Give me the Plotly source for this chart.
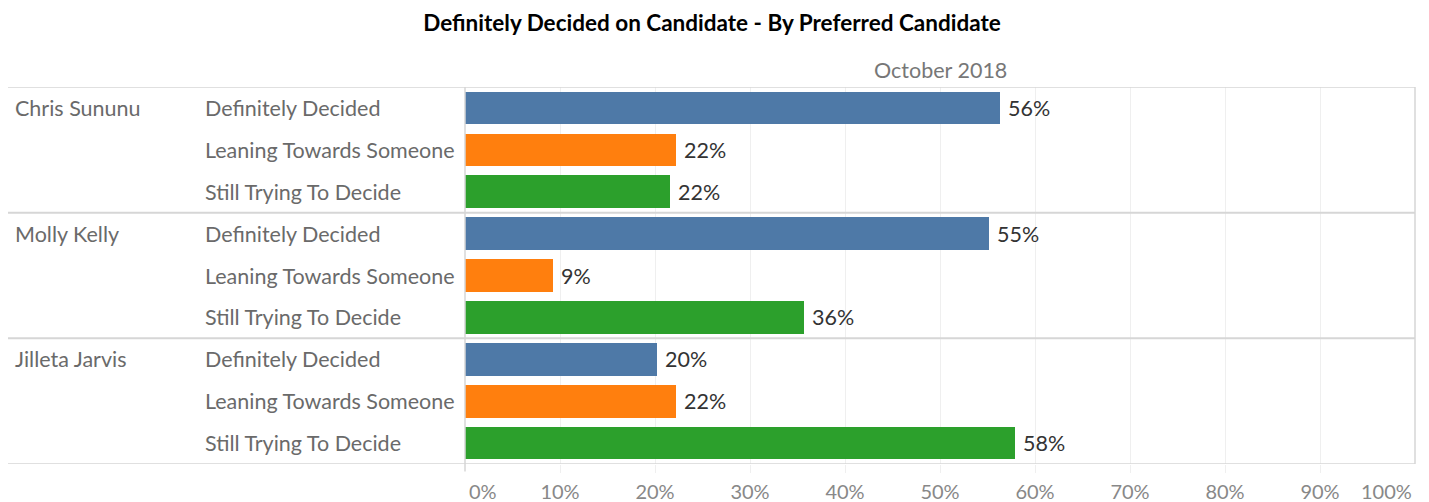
import plotly.graph_objects as go

candidates = ["Chris Sununu", "Molly Kelly", "Jilleta Jarvis"]
responses = ["Definitely Decided", "Leaning Towards Someone", "Still Trying To Decide"]
colors = ["#4e79a7", "#ff7f0e", "#2ca02c"]

# percent per candidate, in response order
values = {
    "Chris Sununu": [56.3, 22.2, 21.6],
    "Molly Kelly": [55.2, 9.3, 35.7],
    "Jilleta Jarvis": [20.2, 22.2, 57.9],
}
period = "October 2018"
tick_vals = [0, 10, 20, 30, 40, 50, 60, 70, 80, 90, 100]

# page has an 8px body margin, so the figure is a bit smaller than the window
OFF = 8
W, H = 1429 - OFF, 502 - OFF
L, R, T, B = 465 - OFF, 14, 87 - OFF, 38
PW = W - L - R

def px_to_paper_x(px):
    # px is measured in page pixels
    return (px - (L + OFF)) / PW

LABEL_FONT = "Lato, 'Open Sans', sans-serif"
GREY = "#6a6a6a"
LINE = "#d6d6d6"
FS = 21.5

fig = go.Figure()

n_resp = len(responses)
for j, resp in enumerate(responses):
    ys = [i * n_resp + j for i in range(len(candidates))]
    xs = [values[c][j] for c in candidates]
    fig.add_trace(go.Bar(
        x=xs, y=ys, orientation="h",
        marker=dict(color=colors[j], line=dict(width=0)),
        width=0.78, name=resp, showlegend=False, hoverinfo="x+name",
    ))
    for x, y in zip(xs, ys):
        fig.add_annotation(
            x=x, y=y, xref="x", yref="y", text=f"{x:.0f}%",
            showarrow=False, xanchor="left", yanchor="middle", xshift=6,
            font=dict(family=LABEL_FONT, size=FS, color="#333333"),
        )

# row headers
for i, cand in enumerate(candidates):
    fig.add_annotation(
        x=px_to_paper_x(13), y=i * n_resp, xref="paper", yref="y",
        text=cand, showarrow=False, xanchor="left", yanchor="middle",
        font=dict(family=LABEL_FONT, size=FS, color=GREY),
    )
    for j, resp in enumerate(responses):
        fig.add_annotation(
            x=px_to_paper_x(203), y=i * n_resp + j, xref="paper", yref="y",
            text=resp, showarrow=False, xanchor="left", yanchor="middle",
            font=dict(family=LABEL_FONT, size=FS, color=GREY),
        )

# end tick labels aligned to the edges (Tableau style)
tick_font = dict(family=LABEL_FONT, size=20, color="#888888")
fig.add_annotation(x=tick_vals[0], y=0, xref="x", yref="paper", text=f"{tick_vals[0]}%",
                   showarrow=False, xanchor="left", yanchor="top", yshift=-13, xshift=2,
                   font=tick_font)
fig.add_annotation(x=tick_vals[-1], y=0, xref="x", yref="paper", text=f"{tick_vals[-1]}%",
                   showarrow=False, xanchor="right", yanchor="top", yshift=-13, xshift=-1,
                   font=tick_font)

# column header
fig.add_annotation(x=0.5, y=1, xref="paper", yref="paper", text=period,
                   showarrow=False, xanchor="center", yanchor="bottom", yshift=2,
                   font=dict(family=LABEL_FONT, size=FS, color="#777777"))

# separators
x0 = px_to_paper_x(5)
for yv in [-0.5, 2.5, 5.5, 8.5]:
    fig.add_shape(type="line", xref="paper", yref="y", x0=x0, x1=1, y0=yv, y1=yv,
                  line=dict(color=LINE, width=2 if yv in (2.5, 5.5) else 1.5), layer="above")
fig.add_shape(type="line", xref="paper", yref="paper", x0=0, x1=0, y0=-0.02, y1=1,
              line=dict(color=LINE, width=1.5), layer="above")
fig.add_shape(type="line", xref="paper", yref="paper", x0=1, x1=1, y0=0, y1=1,
              line=dict(color=LINE, width=1.5), layer="above")

fig.update_xaxes(
    range=[0, 100], tickvals=tick_vals[1:-1], ticktext=[f"{v}%" for v in tick_vals[1:-1]],
    showgrid=True, gridcolor="#efefef", gridwidth=1, zeroline=False,
    ticks="outside", ticklen=8, tickcolor="#efefef", ticklabelstandoff=2,
    tickfont=tick_font, automargin=False,
    showline=False, fixedrange=True,
)
fig.update_yaxes(range=[8.5, -0.5], showticklabels=False, showgrid=False, zeroline=False,
                 fixedrange=True, automargin=False)

fig.update_layout(
    width=W, height=H,
    margin=dict(l=L, r=R, t=T, b=B),
    plot_bgcolor="white", paper_bgcolor="white",
    bargap=0,
    title=dict(text="<b>Definitely Decided on Candidate - By Preferred Candidate</b>",
               x=(712 - OFF) / W, xref="container", xanchor="center",
               y=1 - (23 - OFF) / H, yanchor="middle",
               font=dict(family=LABEL_FONT, size=22.5, color="#000000")),
)

fig.write_html("out.html")
